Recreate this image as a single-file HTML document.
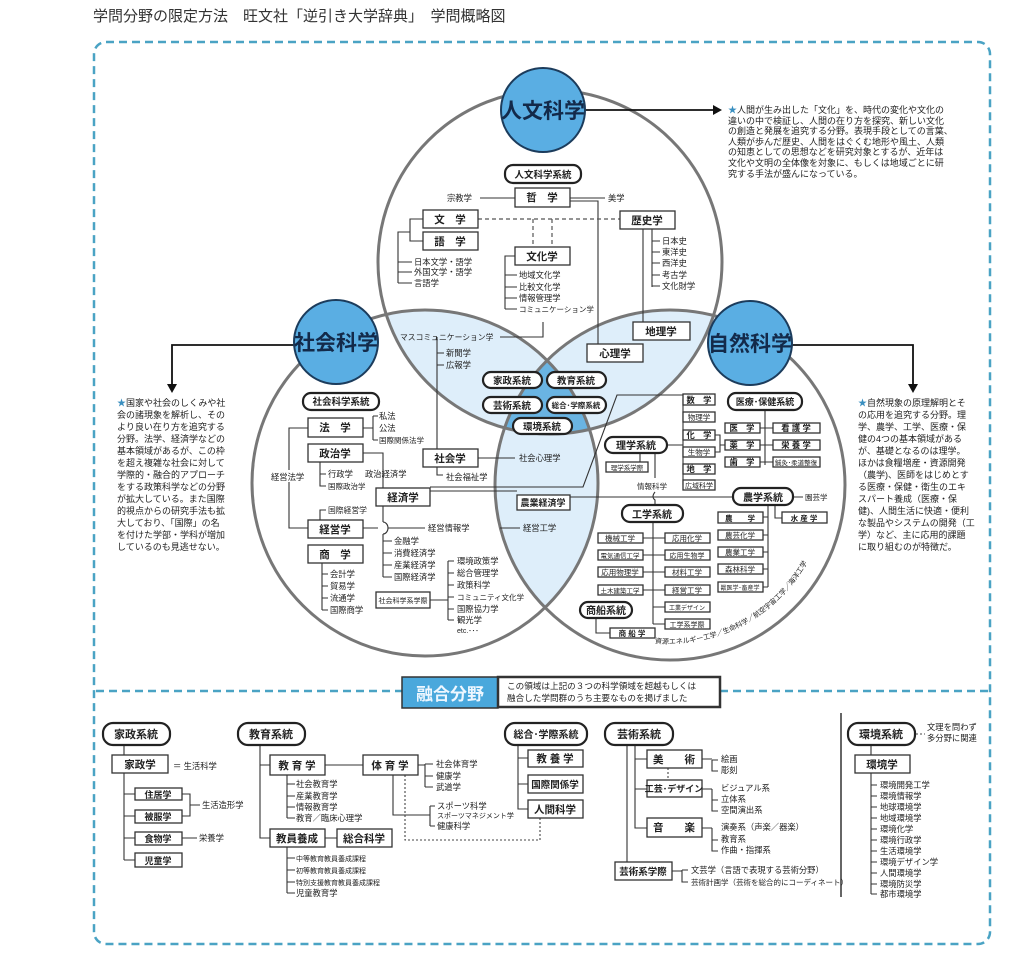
<!DOCTYPE html>
<html><head><meta charset="utf-8"><style>
body{margin:0;background:#fff;width:1024px;height:969px;overflow:hidden}
svg text{font-family:"Liberation Sans","Noto Sans CJK JP",sans-serif;fill:#222}
.b{font-size:10.5px;font-weight:bold;text-anchor:middle}
.p{font-size:10.5px;font-weight:bold;text-anchor:middle}
.s{font-size:8.3px}
.t{font-size:9px}
.bx{fill:#fff;stroke:#333;stroke-width:1.3}
.pl{fill:#fff;stroke:#222;stroke-width:2.2}
.ln{fill:none;stroke:#333;stroke-width:1.1}
</style></head><body>
<svg width="1024" height="969" viewBox="0 0 1024 969" xmlns="http://www.w3.org/2000/svg">
<defs>
<clipPath id="cH"><circle cx="550" cy="262" r="172"/></clipPath>
<clipPath id="cS"><circle cx="425" cy="483" r="173"/></clipPath>
<clipPath id="cN"><circle cx="670" cy="485" r="175"/></clipPath>
<path id="arc" d="M652,643 A159,159 0 0 0 818,539"/>
</defs>
<text x="93" y="21" style="font-size:15px;fill:#333">学問分野の限定方法　旺文社「逆引き大学辞典」　学問概略図</text>
<rect x="94" y="42" width="896" height="902" rx="12" fill="none" stroke="#4aa3c4" stroke-width="2.5" stroke-dasharray="8 5"/>

<!-- shaded intersections -->
<g clip-path="url(#cH)"><circle cx="425" cy="483" r="173" fill="#deeefa"/><circle cx="670" cy="485" r="175" fill="#deeefa"/></g>
<g clip-path="url(#cS)"><circle cx="670" cy="485" r="175" fill="#deeefa"/></g>
<g clip-path="url(#cH)"><g clip-path="url(#cS)"><circle cx="670" cy="485" r="175" fill="#6ab4e2"/></g></g>
<circle cx="550" cy="262" r="172" fill="none" stroke="#777" stroke-width="3"/>
<circle cx="425" cy="483" r="173" fill="none" stroke="#777" stroke-width="3"/>
<circle cx="670" cy="485" r="175" fill="none" stroke="#777" stroke-width="3"/>

<!-- bubbles & arrows -->
<g class="ln" style="stroke:#111;stroke-width:1.8">
<path d="M585,110 H714"/><path d="M294,345 H172 V386"/><path d="M792,345 H913 V386"/>
</g>
<path d="M722,110 l-9,-5 v10z M172,393 l-5,-9 h10z M913,393 l-5,-9 h10z" fill="#111"/>
<circle cx="543" cy="110" r="42" fill="#5aaee3" stroke="#1c3c5c" stroke-width="2"/>
<circle cx="336" cy="342" r="42" fill="#5aaee3" stroke="#1c3c5c" stroke-width="2"/>
<circle cx="750" cy="343" r="42" fill="#5aaee3" stroke="#1c3c5c" stroke-width="2"/>
<text x="543" y="118" style="font-size:21px;font-weight:bold;text-anchor:middle;fill:#132a4a">人文科学</text>
<text x="336" y="350" style="font-size:21px;font-weight:bold;text-anchor:middle;fill:#132a4a">社会科学</text>
<text x="750" y="351" style="font-size:21px;font-weight:bold;text-anchor:middle;fill:#132a4a">自然科学</text>

<!-- description texts -->
<g class="t">
<text x="728" y="113"><tspan style="fill:#3a8fc0">★</tspan>人間が生み出した「文化」を、時代の変化や文化の</text>
<text x="728" y="124">違いの中で検証し、人間の在り方を探究、新しい文化</text>
<text x="728" y="134">の創造と発展を追究する分野。表現手段としての言葉、</text>
<text x="728" y="145">人類が歩んだ歴史、人間をはぐくむ地形や風土、人類</text>
<text x="728" y="155">の知恵としての思想などを研究対象とするが、近年は</text>
<text x="728" y="166">文化や文明の全体像を対象に、もしくは地域ごとに研</text>
<text x="728" y="177">究する手法が盛んになっている。</text>
<text x="117" y="406"><tspan style="fill:#3a8fc0">★</tspan>国家や社会のしくみや社</text>
<text x="117" y="418">会の諸現象を解析し、その</text>
<text x="117" y="430">より良い在り方を追究する</text>
<text x="117" y="442">分野。法学、経済学などの</text>
<text x="117" y="454">基本領域があるが、この枠</text>
<text x="117" y="466">を超え複雑な社会に対して</text>
<text x="117" y="478">学際的・融合的アプローチ</text>
<text x="117" y="490">をする政策科学などの分野</text>
<text x="117" y="502">が拡大している。また国際</text>
<text x="117" y="514">的視点からの研究手法も拡</text>
<text x="117" y="526">大しており、「国際」の名</text>
<text x="117" y="538">を付けた学部・学科が増加</text>
<text x="117" y="550">しているのも見逃せない。</text>
<text x="858" y="406"><tspan style="fill:#3a8fc0">★</tspan>自然現象の原理解明とそ</text>
<text x="858" y="418">の応用を追究する分野。理</text>
<text x="858" y="430">学、農学、工学、医療・保</text>
<text x="858" y="442">健の4つの基本領域がある</text>
<text x="858" y="454">が、基礎となるのは理学。</text>
<text x="858" y="466">ほかは食糧増産・資源開発</text>
<text x="858" y="478">（農学)、医師をはじめとす</text>
<text x="858" y="490">る医療・保健・衛生のエキ</text>
<text x="858" y="502">スパート養成（医療・保</text>
<text x="858" y="514">健)、人間生活に快適・便利</text>
<text x="858" y="526">な製品やシステムの開発（工</text>
<text x="858" y="538">学）など、主に応用的課題</text>
<text x="858" y="550">に取り組むのが特徴だ。</text>
</g>

<!-- HUMANITIES -->
<g class="ln">
<path d="M480,198 H515 M570,198 H605 M570,201 H598 V345"/>
<path d="M423,219 H410 V241 H423 M410,232 H398 V283 M398,262 H412 M398,272 H412 M398,283 H412"/>
<path d="M515,256 H505 V309 M505,275 H517 M505,287 H517 M505,298 H517 M505,309 H517"/>
<path d="M643,228 V322 M652,228 V287 M652,241 H660 M652,252 H660 M652,263 H660 M652,275 H660 M652,286 H660"/>
<path d="M500,337 H543 V322"/>
<path d="M437,337 V475 H443 M437,353 H444 M437,365 H444 M478,458 H515"/>
</g>
<path d="M478,219 H620 M533,219 V247 M552,219 V247" fill="none" stroke="#555" stroke-width="1.2" stroke-dasharray="4 3"/>
<rect class="pl" x="505" y="165" width="76" height="18" rx="8"/><text class="p" x="543" y="178" style="font-size:9.5px">人文科学系統</text>
<rect class="bx" x="515" y="188" width="55" height="19"/><text class="b" x="542" y="201">哲　学</text>
<text class="s" x="447" y="201">宗教学</text><text class="s" x="608" y="201">美学</text>
<rect class="bx" x="423" y="210" width="55" height="18"/><text class="b" x="450" y="223">文　学</text>
<rect class="bx" x="423" y="232" width="55" height="18"/><text class="b" x="450" y="245">語　学</text>
<g class="s"><text x="414" y="265">日本文学・語学</text><text x="414" y="275">外国文学・語学</text><text x="414" y="286">言語学</text></g>
<rect class="bx" x="515" y="247" width="55" height="18"/><text class="b" x="542" y="260">文化学</text>
<g class="s"><text x="519" y="278">地域文化学</text><text x="519" y="290">比較文化学</text><text x="519" y="301">情報管理学</text><text x="519" y="312" style="font-size:7.5px">コミュニケーション学</text></g>
<rect class="bx" x="620" y="211" width="55" height="18"/><text class="b" x="647" y="224">歴史学</text>
<g class="s"><text x="662" y="244">日本史</text><text x="662" y="255">東洋史</text><text x="662" y="266">西洋史</text><text x="662" y="278">考古学</text><text x="662" y="289">文化財学</text></g>
<rect class="bx" x="633" y="322" width="57" height="18"/><text class="b" x="661" y="335">地理学</text>
<rect class="bx" x="587" y="344" width="56" height="18"/><text class="b" x="615" y="357">心理学</text>
<text class="s" x="400" y="340" style="font-size:7.8px">マスコミュニケーション学</text>
<g class="s"><text x="446" y="356">新聞学</text><text x="446" y="368">広報学</text></g>

<!-- center pills -->
<rect class="pl" x="483" y="372" width="59" height="16" rx="8"/><text class="p" x="512" y="384" style="font-size:9.5px">家政系統</text>
<rect class="pl" x="547" y="372" width="59" height="16" rx="8"/><text class="p" x="576" y="384" style="font-size:9.5px">教育系統</text>
<rect class="pl" x="483" y="397" width="59" height="16" rx="8"/><text class="p" x="512" y="409" style="font-size:9.5px">芸術系統</text>
<rect class="pl" x="547" y="397" width="59" height="16" rx="8"/><text class="p" x="576" y="408" style="font-size:7.5px">総合･学際系統</text>
<rect class="pl" x="513" y="418" width="59" height="16" rx="8"/><text class="p" x="542" y="430" style="font-size:9.5px">環境系統</text>

<!-- SOCIAL -->
<g class="ln">
<path d="M363,428 H373 M373,416 V440 M373,416 H378 M373,440 H378"/>
<path d="M308,428 H289 V528 H308"/>
<path d="M320,462 V486 H326 M320,474 H326"/>
<path d="M363,453 H383 V522 M383,534 V577 M383,541 H392 M383,553 H392 M383,565 H392 M383,577 H392"/>
<path d="M383,522 a5,6 0 0 1 0,12"/>
<path d="M363,528 H378 M388,528 H425 M500,528 H520"/>
<path d="M320,520 V510 H326"/>
<path d="M322,563 V610 M322,574 H328 M322,586 H328 M322,598 H328 M322,610 H328"/>
<path d="M430,600 H448 M448,561 V620 M448,561 H454 M448,573 H454 M448,585 H454 M448,597 H454 M448,609 H454 M448,620 H454"/>
<path d="M430,491 H517 M570,497 H733"/>
<path d="M430,487 H583 L617,395 H683"/>
</g>
<rect class="pl" x="303" y="393" width="76" height="17" rx="8"/><text class="p" x="341" y="405" style="font-size:9.5px">社会科学系統</text>
<rect class="bx" x="308" y="418" width="55" height="19"/><text class="b" x="335" y="431">法　学</text>
<g class="s"><text x="379" y="419">私法</text><text x="379" y="431">公法</text><text x="379" y="443" style="font-size:7.5px">国際関係法学</text></g>
<rect class="bx" x="308" y="444" width="55" height="18"/><text class="b" x="335" y="457">政治学</text>
<g class="s"><text x="328" y="477">行政学</text><text x="328" y="489" style="font-size:7.5px">国際政治学</text><text x="365" y="477">政治経済学</text></g>
<rect x="270" y="470" width="38" height="12" fill="#fff"/><text class="s" x="271" y="480">経営法学</text>
<rect class="bx" x="376" y="488" width="54" height="18"/><text class="b" x="403" y="501">経済学</text>
<text class="s" x="328" y="513" style="font-size:7.8px">国際経営学</text>
<rect class="bx" x="308" y="520" width="55" height="18"/><text class="b" x="335" y="533">経営学</text>
<text class="s" x="428" y="531">経営情報学</text>
<rect class="bx" x="308" y="545" width="55" height="18"/><text class="b" x="335" y="558">商　学</text>
<g class="s"><text x="394" y="544">金融学</text><text x="394" y="556">消費経済学</text><text x="394" y="568">産業経済学</text><text x="394" y="580">国際経済学</text>
<text x="330" y="577">会計学</text><text x="330" y="589">貿易学</text><text x="330" y="601">流通学</text><text x="330" y="613">国際商学</text>
<text x="457" y="564">環境政策学</text><text x="457" y="576">総合管理学</text><text x="457" y="588">政策科学</text><text x="457" y="600" style="font-size:7.5px">コミュニティ文化学</text><text x="457" y="612">国際協力学</text><text x="457" y="623">観光学</text><text x="457" y="633" style="font-size:7px">etc.･･･</text></g>
<rect class="bx" x="376" y="592" width="54" height="16"/><text x="403" y="603" style="font-size:7px;text-anchor:middle">社会科学系学際</text>
<rect class="bx" x="423" y="449" width="55" height="18"/><text class="b" x="450" y="462">社会学</text>
<text class="s" x="446" y="480">社会福祉学</text>
<text class="s" x="519" y="461">社会心理学</text>
<rect class="bx" x="517" y="495" width="53" height="15"/><text class="b" x="543" y="506" style="font-size:9px">農業経済学</text>
<text class="s" x="523" y="531">経営工学</text>

<!-- NATURAL -->
<g class="ln">
<path d="M667,445 H683 M683,399 V485 M683,399 H683 M683,417 H683 M683,435 H683 M683,452 H683 M683,469 H683"/>
<path d="M715,435 H720 V452 H715 M720,445 H725"/>
<path d="M765,410 V465 M760,428 H773 M760,445 H773 M760,462 H773"/>
<path d="M640,453 V462 M655,453 V478 M655,492 q-4,5 0,8 V505"/>
<path d="M653,522 V624 M643,538 H665 M643,555 H665 M643,572 H665 M643,590 H665 M653,607 H665 M653,624 H665"/>
<path d="M596,618 V633 H610"/>
<path d="M793,497 H803 M775,505 V518 H782 M768,505 V587 M763,517 H768 M763,535 H768 M763,552 H768 M763,569 H768 M763,587 H768"/>
</g>
<rect class="bx" x="683" y="394" width="32" height="11"/><text class="s" x="699" y="403" style="text-anchor:middle;font-weight:bold">数　学</text>
<rect class="bx" x="683" y="412" width="32" height="10"/><text class="s" x="699" y="420" style="text-anchor:middle;font-size:7.5px">物理学</text>
<rect class="bx" x="683" y="430" width="32" height="10"/><text class="s" x="699" y="438" style="text-anchor:middle;font-weight:bold">化　学</text>
<rect class="bx" x="683" y="447" width="32" height="10"/><text class="s" x="699" y="455" style="text-anchor:middle;font-size:7.5px">生物学</text>
<rect class="bx" x="683" y="464" width="32" height="10"/><text class="s" x="699" y="472" style="text-anchor:middle;font-weight:bold">地　学</text>
<rect class="bx" x="683" y="480" width="32" height="10"/><text class="s" x="699" y="488" style="text-anchor:middle;font-size:7px">広域科学</text>
<rect class="pl" x="605" y="437" width="62" height="16" rx="8"/><text class="p" x="636" y="449" style="font-size:10px">理学系統</text>
<rect class="bx" x="606" y="462" width="42" height="10"/><text x="627" y="470" style="font-size:6.5px;text-anchor:middle">理学系学際</text>
<text class="s" x="637" y="489" style="font-size:7.5px">情報科学</text>
<rect class="pl" x="728" y="393" width="74" height="17" rx="8"/><text class="p" x="765" y="405" style="font-size:9px">医療･保健系統</text>
<rect class="bx" x="725" y="423" width="35" height="10"/><text class="s" x="742" y="431" style="text-anchor:middle;font-weight:bold">医　学</text>
<rect class="bx" x="725" y="440" width="35" height="10"/><text class="s" x="742" y="448" style="text-anchor:middle;font-weight:bold">薬　学</text>
<rect class="bx" x="725" y="457" width="35" height="10"/><text class="s" x="742" y="465" style="text-anchor:middle;font-weight:bold">歯　学</text>
<rect class="bx" x="773" y="423" width="47" height="10"/><text class="s" x="796" y="431" style="text-anchor:middle;font-weight:bold">看 護 学</text>
<rect class="bx" x="773" y="440" width="47" height="10"/><text class="s" x="796" y="448" style="text-anchor:middle;font-weight:bold">栄 養 学</text>
<rect class="bx" x="773" y="457" width="47" height="10"/><text x="796" y="465" style="font-size:6.5px;text-anchor:middle">鍼灸･柔道整復</text>
<rect class="pl" x="622" y="505" width="61" height="17" rx="8"/><text class="p" x="652" y="518" style="font-size:10px">工学系統</text>
<g style="font-size:7.5px">
<rect class="bx" x="598" y="533" width="45" height="10"/><text x="620" y="541" style="text-anchor:middle;font-size:7.5px">機械工学</text>
<rect class="bx" x="598" y="550" width="45" height="10"/><text x="620" y="558" style="text-anchor:middle;font-size:6.5px">電気通信工学</text>
<rect class="bx" x="598" y="567" width="45" height="10"/><text x="620" y="575" style="text-anchor:middle;font-size:7.5px">応用物理学</text>
<rect class="bx" x="598" y="585" width="45" height="10"/><text x="620" y="593" style="text-anchor:middle;font-size:6.5px">土木建築工学</text>
<rect class="bx" x="665" y="533" width="45" height="10"/><text x="687" y="541" style="text-anchor:middle;font-size:7.5px">応用化学</text>
<rect class="bx" x="665" y="550" width="45" height="10"/><text x="687" y="558" style="text-anchor:middle;font-size:7px">応用生物学</text>
<rect class="bx" x="665" y="567" width="45" height="10"/><text x="687" y="575" style="text-anchor:middle;font-size:7.5px">材料工学</text>
<rect class="bx" x="665" y="585" width="45" height="10"/><text x="687" y="593" style="text-anchor:middle;font-size:7.5px">経営工学</text>
<rect class="bx" x="665" y="602" width="45" height="10"/><text x="687" y="610" style="text-anchor:middle;font-size:6px">工業デザイン</text>
<rect class="bx" x="665" y="619" width="45" height="10"/><text x="687" y="627" style="text-anchor:middle;font-size:7px">工学系学際</text>
<rect class="bx" x="718" y="512" width="45" height="11"/><text x="740" y="521" style="text-anchor:middle;font-size:7.5px;font-weight:bold">農　　学</text>
<rect class="bx" x="718" y="530" width="45" height="10"/><text x="740" y="538" style="text-anchor:middle;font-size:7.5px">農芸化学</text>
<rect class="bx" x="718" y="547" width="45" height="10"/><text x="740" y="555" style="text-anchor:middle;font-size:7.5px">農業工学</text>
<rect class="bx" x="718" y="564" width="45" height="10"/><text x="740" y="572" style="text-anchor:middle;font-size:7.5px">森林科学</text>
<rect class="bx" x="718" y="582" width="45" height="10"/><text x="740" y="590" style="text-anchor:middle;font-size:6px">獣医学･畜産学</text>
<rect class="bx" x="782" y="512" width="45" height="11"/><text x="804" y="521" style="text-anchor:middle;font-size:7.5px;font-weight:bold">水 産 学</text>
</g>
<rect class="pl" x="733" y="488" width="60" height="17" rx="8"/><text class="p" x="763" y="501" style="font-size:10px">農学系統</text>
<text class="s" x="805" y="500" style="font-size:7.5px">園芸学</text>
<rect class="pl" x="580" y="602" width="52" height="16" rx="8"/><text class="p" x="606" y="614" style="font-size:10px">商船系統</text>
<rect class="bx" x="610" y="628" width="45" height="10"/><text x="632" y="636" style="text-anchor:middle;font-size:7.5px;font-weight:bold">商 船 学</text>
<text style="font-size:7px"><textPath href="#arc" startOffset="3">資源エネルギー工学／生命科学／航空宇宙工学／海洋工学</textPath></text>

<!-- divider -->
<path d="M96,691 H402 M720,691 H988" stroke="#4aa3c4" stroke-width="2.5" stroke-dasharray="8 5"/>
<rect x="402" y="677" width="96" height="31" fill="#4aa8dc" stroke="#333" stroke-width="1.5"/>
<text x="450" y="700" style="font-size:17px;font-weight:bold;text-anchor:middle;fill:#eef7ff">融合分野</text>
<rect x="498" y="677" width="222" height="30" fill="#fff" stroke="#333" stroke-width="2.5"/>
<text x="507" y="689" style="font-size:8.6px">この領域は上記の３つの科学領域を超越もしくは</text>
<text x="507" y="701" style="font-size:8.6px">融合した学問群のうち主要なものを掲げました</text>

<!-- bottom -->
<g class="ln">
<path d="M124,745 V860 M124,794 H135 M124,816 H135 M124,838 H135 M124,860 H135"/>
<path d="M182,794 H190 V816 H182 M190,805 H200 M182,838 H197"/>
<path d="M260,745 V838 H270 M260,765 H270 M325,765 H363 M325,838 H337"/>
<path d="M287,775 V818 M287,784 H295 M287,796 H295 M287,807 H295 M287,818 H295"/>
<path d="M287,847 V893 M287,858 H295 M287,870 H295 M287,882 H295 M287,893 H295"/>
<path d="M418,765 H425 M425,764 V787 M425,764 H433 M425,776 H433 M425,787 H433"/>
<path d="M393,775 V815 H430 M430,806 V826 M430,806 H435 M430,826 H435"/>
<path d="M518,745 V809 H528 M518,758 H528 M518,784 H528"/>
<path d="M627,745 V862 M635,745 V828 H647 M635,759 H647 M635,789 H647"/>
<path d="M702,759 H712 M712,760 V771 H718 M712,760 H718 M702,789 H712 M712,789 V811 H718 M712,800 H718 M702,828 H712 M712,828 V851 H718 M712,840 H718"/>
<path d="M672,871 H682 M682,870 V882 H688 M682,870 H688"/>
<path d="M871,745 V755 M871,773 V894 M871,785 H877 M871,796 H877 M871,807 H877 M871,818 H877 M871,829 H877 M871,840 H877 M871,851 H877 M871,862 H877 M871,873 H877 M871,884 H877 M871,894 H877"/>
<path d="M841,713 V897" style="stroke-width:1.5"/>
</g>
<path d="M405,775 V840 H540 V818 M916,734 H925 M668,768 V780" fill="none" stroke="#444" stroke-width="1.1" stroke-dasharray="2 2"/>
<rect class="pl" x="103" y="723" width="67" height="22" rx="10"/><text class="p" x="136" y="738" style="font-size:11px">家政系統</text>
<rect class="bx" x="112" y="755" width="56" height="18"/><text class="b" x="140" y="768">家政学</text>
<text class="s" x="173" y="769">＝ 生活科学</text>
<rect class="bx" x="135" y="788" width="47" height="12"/><text class="b" x="158" y="798" style="font-size:9px">住居学</text>
<rect class="bx" x="135" y="810" width="47" height="13"/><text class="b" x="158" y="820" style="font-size:9px">被服学</text>
<rect class="bx" x="135" y="832" width="47" height="13"/><text class="b" x="158" y="842" style="font-size:9px">食物学</text>
<rect class="bx" x="135" y="853" width="47" height="14"/><text class="b" x="158" y="864" style="font-size:9px">児童学</text>
<text class="s" x="202" y="808">生活造形学</text><text class="s" x="199" y="841">栄養学</text>
<rect class="pl" x="238" y="723" width="67" height="22" rx="10"/><text class="p" x="271" y="738" style="font-size:11px">教育系統</text>
<rect class="bx" x="270" y="755" width="55" height="20"/><text class="b" x="297" y="769">教 育 学</text>
<rect class="bx" x="363" y="755" width="55" height="20"/><text class="b" x="390" y="769">体 育 学</text>
<g class="s"><text x="296" y="787">社会教育学</text><text x="296" y="799">産業教育学</text><text x="296" y="810">情報教育学</text><text x="296" y="821">教育／臨床心理学</text>
<text x="436" y="767">社会体育学</text><text x="436" y="779">健康学</text><text x="436" y="790">武道学</text>
<text x="437" y="809">スポーツ科学</text><text x="437" y="818" style="font-size:7px">スポーツマネジメント学</text><text x="437" y="829">健康科学</text>
<text x="296" y="861" style="font-size:7px">中等教育教員養成課程</text><text x="296" y="873" style="font-size:7px">初等教育教員養成課程</text><text x="296" y="885" style="font-size:7px">特別支援教育教員養成課程</text><text x="296" y="896">児童教育学</text></g>
<rect class="bx" x="270" y="829" width="55" height="18"/><text class="b" x="297" y="842">教員養成</text>
<rect class="bx" x="337" y="829" width="55" height="18"/><text class="b" x="364" y="842">総合科学</text>
<rect class="pl" x="505" y="723" width="82" height="22" rx="10"/><text class="p" x="546" y="738" style="font-size:10px">総合･学際系統</text>
<rect class="bx" x="528" y="750" width="55" height="17"/><text class="b" x="555" y="762">教 養 学</text>
<rect class="bx" x="528" y="775" width="55" height="18"/><text class="b" x="555" y="788" style="font-size:9.5px">国際関係学</text>
<rect class="bx" x="528" y="800" width="55" height="18"/><text class="b" x="555" y="813">人間科学</text>
<rect class="pl" x="605" y="723" width="68" height="22" rx="10"/><text class="p" x="639" y="738" style="font-size:11px">芸術系統</text>
<rect class="bx" x="647" y="750" width="55" height="18"/><text class="b" x="674" y="763">美　　術</text>
<rect class="bx" x="647" y="780" width="55" height="17"/><text class="b" x="674" y="792" style="font-size:9px">工芸･デザイン</text>
<rect class="bx" x="647" y="818" width="55" height="19"/><text class="b" x="674" y="831">音　　楽</text>
<g class="s"><text x="721" y="762">絵画</text><text x="721" y="773">彫刻</text><text x="721" y="791">ビジュアル系</text><text x="721" y="802">立体系</text><text x="721" y="813">空間演出系</text>
<text x="721" y="830">演奏系（声楽／器楽）</text><text x="721" y="842">教育系</text><text x="721" y="853">作曲・指揮系</text>
<text x="691" y="873">文芸学（言語で表現する芸術分野）</text><text x="691" y="885" style="font-size:7.5px">芸術計画学（芸術を総合的にコーディネート）</text></g>
<rect class="bx" x="615" y="862" width="57" height="18"/><text class="b" x="643" y="875" style="font-size:9.5px">芸術系学際</text>
<rect class="pl" x="848" y="723" width="67" height="22" rx="10"/><text class="p" x="881" y="738" style="font-size:11px">環境系統</text>
<text class="s" x="927" y="730">文理を問わず</text><text class="s" x="927" y="741">多分野に関連</text>
<rect class="bx" x="855" y="755" width="55" height="18"/><text class="b" x="882" y="768">環境学</text>
<g class="s"><text x="880" y="788">環境開発工学</text><text x="880" y="799">環境情報学</text><text x="880" y="810">地球環境学</text><text x="880" y="821">地域環境学</text><text x="880" y="832">環境化学</text><text x="880" y="843">環境行政学</text><text x="880" y="854">生活環境学</text><text x="880" y="865">環境デザイン学</text><text x="880" y="876">人間環境学</text><text x="880" y="887">環境防災学</text><text x="880" y="897">都市環境学</text></g>
</svg>
</body></html>
